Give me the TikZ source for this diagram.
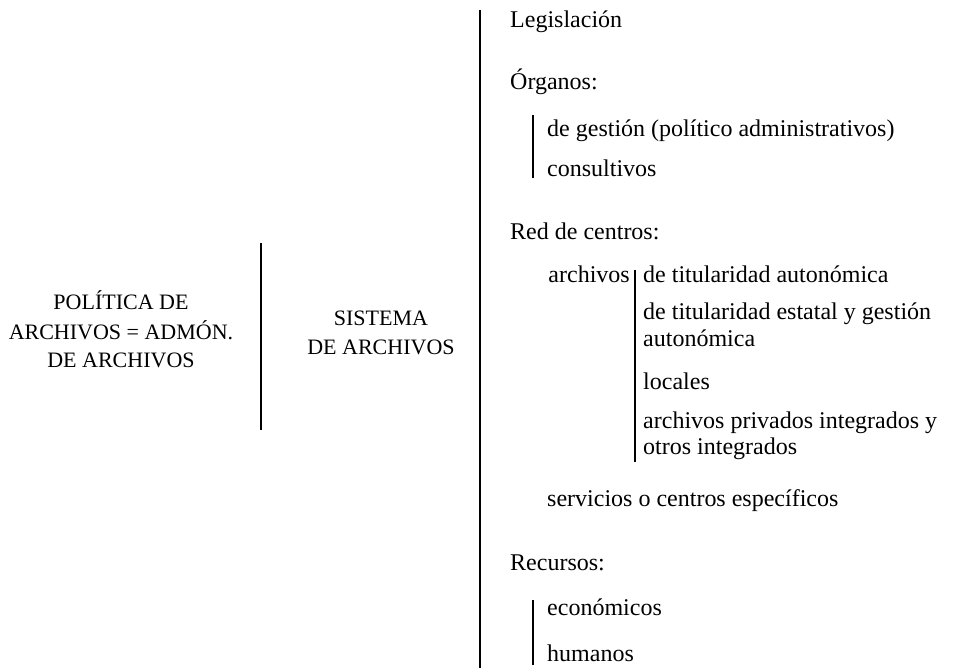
\documentclass[tikz,border=0pt]{standalone}
\usepackage{fontspec}
\setmainfont{Liberation Serif}
\begin{document}
\begin{tikzpicture}[x=1pt,y=-1pt,
  txt/.style={inner sep=0pt,anchor=base west,font=\fontsize{24}{26}\selectfont},
  captext/.style={inner sep=0pt,anchor=base,font=\fontsize{22}{29}\selectfont},
  bigline/.style={line width=2pt},
  bar/.style={line width=1.8pt}]
\useasboundingbox (0,0) rectangle (954,668);
% left block
\node[captext] (p1) at (121,310) {POLÍTICA DE};
\node[captext] (p2) at (121,340) {ARCHIVOS = ADMÓN.};
\node[captext] (p3) at (121,368) {DE ARCHIVOS};
\node[captext] (s1) at (381,326) {SISTEMA};
\node[captext] (s2) at (381,355) {DE ARCHIVOS};
\coordinate (midtop) at (261,243);
\coordinate (midbot) at (261,430);
\draw[line width=1.6pt] (midtop) -- (midbot);
\coordinate (bigtop) at (480,10);
\coordinate (bigbot) at (480,668);
\draw[bigline] (bigtop) -- (bigbot);
% right block
\node[txt] (leg) at (510,28) {Legislación};
\node[txt] (org) at (510,90) {Órganos:};
\node[txt] (ges) at (547,137) {de gestión (político administrativos)};
\node[txt] (con) at (547,177) {consultivos};
\coordinate (b1t) at (533,115);
\coordinate (b1b) at (533,178);
\draw[bar] (b1t) -- (b1b);
\node[txt] (red) at (510,240) {Red de centros:};
\node[txt,anchor=base east] (arc) at (630,283) {archivos};
\node[txt] (t1) at (643,283) {de titularidad autonómica};
\node[txt] (t2a) at (643,320) {de titularidad estatal y gestión};
\node[txt] (t2b) at (643,347) {autonómica};
\node[txt] (loc) at (643,390) {locales};
\node[txt] (pr1) at (643,429) {archivos privados integrados y};
\node[txt] (pr2) at (643,455) {otros integrados};
\coordinate (b2t) at (635,270);
\coordinate (b2b) at (635,462);
\draw[bar] (b2t) -- (b2b);
\node[txt] (ser) at (547,506) {servicios o centros específicos};
\node[txt] (rec) at (510,570) {Recursos:};
\node[txt] (eco) at (547,615) {económicos};
\node[txt] (hum) at (547,661) {humanos};
\coordinate (b3t) at (533,600);
\coordinate (b3b) at (533,665);
\draw[bar] (b3t) -- (b3b);
\end{tikzpicture}
\end{document}
